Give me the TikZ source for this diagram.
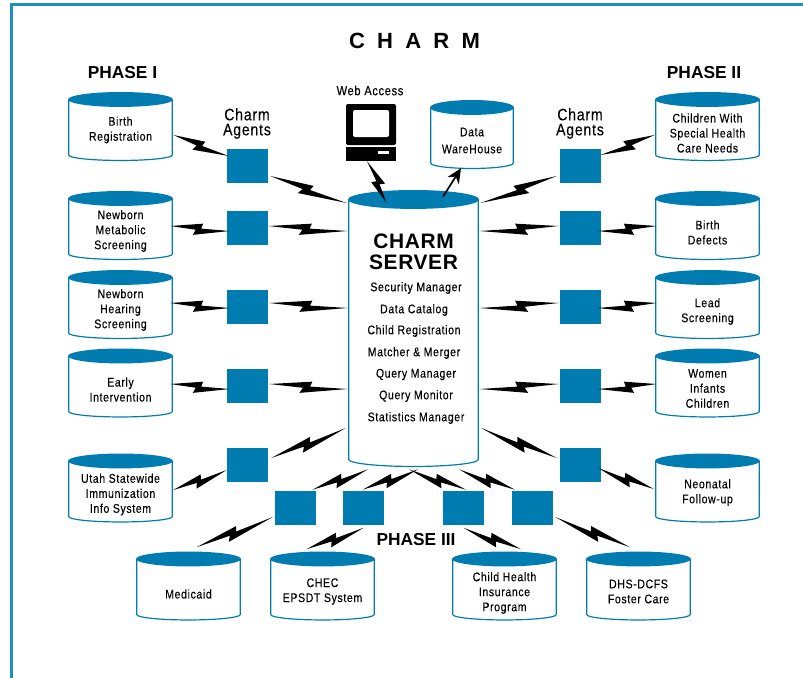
\documentclass[tikz,border=0pt]{standalone}
\usepackage{fontspec}
\setmainfont{Liberation Sans}
\newfontfamily\bodyfont[FakeStretch=0.84,LetterSpace=5,FakeBold=0.2]{Liberation Sans}
\usetikzlibrary{calc, arrows.meta}
\definecolor{charmblue}{HTML}{007CB0}
\definecolor{frameblue}{HTML}{1E8FBF}

\tikzset{
  cyl/.style 2 args={rectangle, minimum width=#1, minimum height=51.75pt, inner sep=0pt,
    path picture={
      \draw[charmblue, line width=.9pt] ($(path picture bounding box.north west)+(.5pt,-#2)$)
        -- ($(path picture bounding box.south west)+(.5pt,{.8*#2})$)
        arc [start angle=180, end angle=360, x radius={#1/2-.5pt}, y radius={.8*#2-.4pt}]
        -- ($(path picture bounding box.north east)+(-.5pt,-#2)$);
      \fill[charmblue] ($(path picture bounding box.north)+(0pt,-#2)$) ellipse [x radius={#1/2}, y radius=#2];
    }},
  dbase/.style={cyl={78.75pt}{5.6pt}},
  dbtext/.style={align=center, inner sep=0pt, font=\bodyfont\fontsize{9.4}{11.25}\selectfont},
  agent/.style={fill=charmblue, minimum width=30.75pt, minimum height=25.5pt, inner sep=0pt},
  tasklabel/.style={font=\bodyfont\fontsize{9.4}{11.25}\selectfont, inner sep=0pt},
  agentlabel/.style={align=center, inner sep=0pt, font=\bodyfont\fontsize{12.5}{11.25}\selectfont},
  phaselabel/.style={inner sep=0pt, font=\fontsize{13}{15}\selectfont\bfseries}
}
\newcommand{\bolt}[3][90]{\fill[black] (#2) -- ($(#2)!.545!(#3)!3.8pt!#1:(#3)$)
  -- ($(#2)!.52!(#3)!0pt!#1:(#3)$) -- (#3)
  -- ($(#2)!.39!(#3)!-5.2pt!#1:(#3)$) -- ($(#2)!.43!(#3)!-1.2pt!#1:(#3)$) -- cycle;}

\begin{document}
\begin{tikzpicture}[x=0.75pt,y=-0.75pt]
  \useasboundingbox (0,0) rectangle (803,678);
  \draw[frameblue, line width=2pt] (11.3,678) -- (11.3,4.8) -- (803,4.8);

  \node[inner sep=0pt, font=\fontsize{16.5}{18}\selectfont\bfseries\addfontfeature{LetterSpace=28}] (title) at (414.5,41) {C H A R M};
  \node[phaselabel] (phaseA) at (122.5,72.5) {PHASE I};
  \node[phaselabel] (phaseB) at (704,72.5) {PHASE II};
  \node[phaselabel] (phaseC) at (416,539.5) {PHASE III};
  \node[agentlabel] (agentsA) at (247,123.5) {Charm\\Agents};
  \node[agentlabel] (agentsB) at (580,123.5) {Charm\\Agents};
  \node[tasklabel, font=\bodyfont\fontsize{9.9}{11.25}\selectfont] (web) at (370,90.5) {Web Access};

  \node[dbase, label={[dbtext,yshift=-2.6pt]center:Birth\\Registration}] (birth) at (120.5,126.5) {};
  \node[dbase, label={[dbtext,yshift=-4.1pt]center:Newborn\\Metabolic\\Screening}] (metabolic) at (120.5,225.5) {};
  \node[dbase, label={[dbtext,yshift=-4.1pt]center:Newborn\\Hearing\\Screening}] (hearing) at (120.5,304.5) {};
  \node[dbase, label={[dbtext,yshift=-4.9pt]center:Early\\Intervention}] (early) at (120.5,383) {};
  \node[dbase, label={[dbtext,yshift=-4.9pt]center:Utah Statewide\\Immunization\\Info System}] (utah) at (120.5,488) {};
  \node[dbase, label={[dbtext,yshift=-4.9pt]center:Children With\\Special Health\\Care Needs}] (children) at (707.5,126.5) {};
  \node[dbase, label={[dbtext,yshift=-5.2pt]center:Birth\\Defects}] (defects) at (707.5,225.5) {};
  \node[dbase, label={[dbtext,yshift=-5.2pt]center:Lead\\Screening}] (lead) at (707.5,304.5) {};
  \node[dbase, label={[dbtext,yshift=-4.1pt]center:Women\\Infants\\Children}] (wic) at (707.5,383) {};
  \node[dbase, label={[dbtext,yshift=-3.4pt]center:Neonatal\\Follow-up}] (neonatal) at (707.5,488) {};
  \node[dbase, label={[dbtext,yshift=-6pt]center:Medicaid}] (medicaid) at (188.5,586) {};
  \node[dbase, label={[dbtext,yshift=-4.1pt]center:CHEC\\EPSDT System}] (chec) at (322.5,586) {};
  \node[dbase, label={[dbtext,yshift=-5.2pt]center:Child Health\\Insurance\\Program}] (chip) at (504.5,586) {};
  \node[dbase, label={[dbtext,yshift=-4.1pt]center:DHS-DCFS\\Foster Care}] (dhs) at (638.5,586) {};
  \node[cyl={63pt}{5.6pt}, label={[dbtext,yshift=-4.5pt]center:Data\\[1.5pt]WareHouse}] (warehouse) at (472,134.5) {};

  \node[cyl={98.25pt}{7.1pt}, minimum height=207.75pt] (server) at (413.5,328.5) {};
  \node[inner sep=0pt, align=center, font=\fontsize{15.7}{15.75}\selectfont\bfseries\addfontfeature{LetterSpace=3}] (servername) at (413.5,251.5) {CHARM\\SERVER};
  \node[tasklabel] (taskA) at (416,288) {Security Manager};
  \node[tasklabel] (taskB) at (414,310) {Data Catalog};
  \node[tasklabel] (taskC) at (414,331) {Child Registration};
  \node[tasklabel] (taskD) at (414,353) {Matcher \& Merger};
  \node[tasklabel] (taskE) at (416,374.5) {Query Manager};
  \node[tasklabel] (taskF) at (416,396) {Query Monitor};
  \node[tasklabel] (taskG) at (416,418) {Statistics Manager};

  \node[agent] (agentA) at (247.5,166) {};
  \node[agent] (agentB) at (247.5,228) {};
  \node[agent] (agentC) at (247.5,307) {};
  \node[agent] (agentD) at (247.5,386) {};
  \node[agent] (agentE) at (247.5,465) {};
  \node[agent] (agentF) at (580.5,166) {};
  \node[agent] (agentG) at (580.5,228) {};
  \node[agent] (agentH) at (580.5,307) {};
  \node[agent] (agentI) at (580.5,386) {};
  \node[agent] (agentJ) at (580.5,465) {};
  \node[agent] (agentK) at (295.5,508) {};
  \node[agent] (agentL) at (363.5,508) {};
  \node[agent] (agentM) at (463.5,508) {};
  \node[agent] (agentN) at (532.5,508) {};

  % computer
  \node[fill=black, rounded corners=1.5pt, minimum width=37.5pt, minimum height=30.75pt, inner sep=0pt] (monitor) at (371,124.5) {};
  \node[fill=white, rounded corners=1.5pt, minimum width=27pt, minimum height=20.25pt, inner sep=0pt] (screen) at (371,123.5) {};
  \node[fill=black, minimum width=37.5pt, minimum height=10.5pt, inner sep=0pt] (base) at (371,154) {};
  \node[fill=white, minimum width=8.25pt, minimum height=2.25pt, inner sep=0pt] (slot) at (383.5,152.5) {};

  % left side
  \bolt{$(birth.east)+(0,8.5)$}{$(agentA.west)+(2,-10)$}
  \bolt{$(agentA.east)+(2,10)$}{$(server.west)+(-1,-125.5)$}
  \bolt{$(metabolic.east)+(-3,.5)$}{$(agentB.west)+(3,3)$}
  \bolt{$(agentB.east)+(0,-2)$}{$(server.west)+(0,-97.5)$}
  \bolt{$(hearing.east)+(-3,-1.5)$}{$(agentC.west)+(3,1)$}
  \bolt{$(agentC.east)+(1,-4)$}{$(server.west)+(0,-20.5)$}
  \bolt{$(early.east)+(-3,1)$}{$(agentD.west)+(3,3)$}
  \bolt{$(agentD.east)+(1,-2)$}{$(server.west)+(0,60.5)$}
  \bolt{$(utah.east)+(0,2)$}{$(agentE.west)+(0,5)$}
  \bolt{$(agentE.east)+(3,-7)$}{$(server.west)+(-2,99.5)$}

  % right side
  \bolt[-90]{$(children.west)+(0,8.5)$}{$(agentF.east)+(-1,-11)$}
  \bolt[-90]{$(agentF.west)+(-3,10)$}{$(server.east)+(1,-125.5)$}
  \bolt[-90]{$(defects.west)+(2,.5)$}{$(agentG.east)+(-4,3)$}
  \bolt[-90]{$(agentG.west)+(-1,-2)$}{$(server.east)+(0,-97.5)$}
  \bolt[-90]{$(lead.west)+(2,-1.5)$}{$(agentH.east)+(-4,1)$}
  \bolt[-90]{$(agentH.west)+(-1,-4)$}{$(server.east)+(0,-20.5)$}
  \bolt[-90]{$(wic.west)+(2,1)$}{$(agentI.east)+(-4,3)$}
  \bolt[-90]{$(agentI.west)+(-1,-2)$}{$(server.east)+(0,60.5)$}
  \bolt[-90]{$(neonatal.west)+(-1,1)$}{$(agentJ.east)+(-3,3)$}
  \bolt[-90]{$(agentJ.west)+(-3,-7)$}{$(server.east)+(2,99.5)$}

  % bottom
  \bolt{$(agentK.north)+(17,-1)$}{$(server.south)+(-45.5,2)$}
  \bolt{$(agentL.north)+(-1,-1)$}{$(server.south)+(4.5,2)$}
  \bolt[-90]{$(agentM.north)+(2.5,-1)$}{$(server.south)+(-4.5,2)$}
  \bolt[-90]{$(agentN.north)+(-17.5,-1)$}{$(server.south)+(45.5,2)$}
  \bolt{$(medicaid.north)+(8,-4)$}{$(agentK.west)+(-2,9)$}
  \bolt{$(chec.north)+(-16,-2)$}{$(agentL.south)+(0,2.5)$}
  \bolt[-90]{$(chip.north)+(16.5,-2)$}{$(agentM.south)+(0,2.5)$}
  \bolt[-90]{$(dhs.north)+(-8.5,-4)$}{$(agentN.east)+(2,9)$}

  % web access and warehouse
  \bolt{$(server.north)+(-27,13)$}{$(base.south)+(-4,0)$}
  \draw[-{Stealth[length=11pt,width=10pt]}, line width=1.3pt] ($(server.north)+(29.5,7)$) -- ($(warehouse.south)+(-11,-1)$);
\end{tikzpicture}
\end{document}
